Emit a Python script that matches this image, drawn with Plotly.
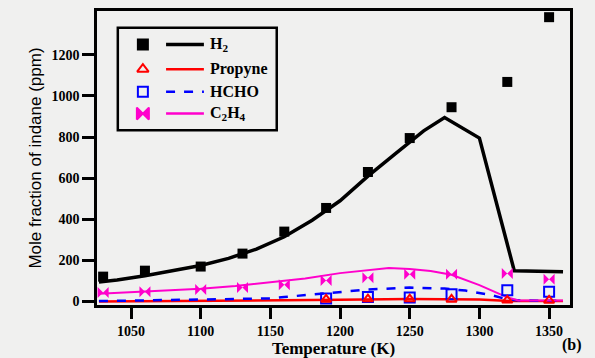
import plotly.graph_objects as go

# Experimental points
T_exp = [1030, 1060, 1100, 1130, 1160, 1190, 1220, 1250, 1280, 1320, 1350]
H2_exp = [121, 150, 170, 233, 340, 455, 630, 795, 945, 1068, 1383]
C2H4_exp = [44, 48, 58, 68, 82, 102, 116, 133, 132, 136, 108]
T_exp2 = [1190, 1220, 1250, 1280, 1320, 1350]
HCHO_exp = [15, 22, 20, 35, 55, 48]
Propyne_exp = [10, 12, 12, 10, 6, 5]

# Model curves
T_h2 = [1027, 1040, 1060, 1080, 1100, 1120, 1140, 1160, 1180, 1200, 1220, 1240, 1260, 1275, 1300, 1325, 1360]
H2_mod = [95, 105, 125, 148, 175, 210, 255, 315, 395, 490, 610, 720, 830, 895, 795, 150, 145]
T_c2 = [1027, 1050, 1075, 1100, 1125, 1150, 1175, 1200, 1225, 1235, 1250, 1265, 1280, 1300, 1320, 1328, 1360]
C2H4_mod = [38, 45, 52, 62, 75, 92, 112, 138, 158, 163, 158, 148, 130, 80, 20, 5, 5]
T_hc = [1027, 1100, 1150, 1160, 1200, 1220, 1250, 1275, 1290, 1310, 1320, 1330, 1360]
HCHO_mod = [2, 8, 15, 22, 44, 58, 68, 63, 53, 29, 10, 5, 3]
T_pr = [1027, 1100, 1150, 1200, 1250, 1300, 1325, 1360]
Propyne_mod = [0, 2, 5, 8, 12, 10, 2, 2]

legend_names = ["H<sub>2</sub>", "Propyne", "HCHO", "C<sub>2</sub>H<sub>4</sub>"]
colors = ["black", "red", "blue", "#ff00cc"]
symbols = ["square", "triangle-up-open", "square-open", "bowtie"]
dashes = ["solid", "solid", "dash", "solid"]

serif = "Liberation Serif"
sans = "Liberation Sans"
fig = go.Figure()

# model lines
fig.add_trace(go.Scatter(x=T_pr, y=Propyne_mod, mode="lines", line=dict(color="red", width=2.5)))
fig.add_trace(go.Scatter(x=T_hc, y=HCHO_mod, mode="lines", line=dict(color="blue", width=2.5, dash="dash")))
fig.add_trace(go.Scatter(x=T_c2, y=C2H4_mod, mode="lines", line=dict(color="#ff00cc", width=2)))
fig.add_trace(go.Scatter(x=T_h2, y=H2_mod, mode="lines", line=dict(color="black", width=3.5)))

# points
fig.add_trace(go.Scatter(x=T_exp, y=H2_exp, mode="markers",
                         marker=dict(symbol="square", color="black", size=10)))
fig.add_trace(go.Scatter(x=T_exp, y=C2H4_exp, mode="markers",
                         marker=dict(symbol="bowtie", color="#ff00cc", size=11)))
fig.add_trace(go.Scatter(x=T_exp2, y=HCHO_exp, mode="markers",
                         marker=dict(symbol="square-open", color="blue", size=10, line=dict(width=2, color="blue"))))
fig.add_trace(go.Scatter(x=T_exp2, y=Propyne_exp, mode="markers",
                         marker=dict(symbol="triangle-up-open", color="red", size=9, line=dict(width=2, color="red"))))

# manual legend on an overlay axis
rows_y = [0.886, 0.802, 0.725, 0.651]
for i in range(4):
    msize = 10 if i != 3 else 12
    fig.add_trace(go.Scatter(x=[0.097], y=[rows_y[i]], mode="markers", xaxis="x2", yaxis="y2",
                             marker=dict(symbol=symbols[i], color=colors[i], size=msize,
                                         line=dict(width=2, color=colors[i]))))
    fig.add_trace(go.Scatter(x=[0.146, 0.226], y=[rows_y[i]] * 2, mode="lines", xaxis="x2", yaxis="y2",
                             line=dict(color=colors[i], width=3.5 if i == 0 else 2.5, dash=dashes[i])))
    fig.add_annotation(x=0.235, y=rows_y[i], xref="x2", yref="y2", text="<b>" + legend_names[i] + "</b>",
                       showarrow=False, xanchor="left", yanchor="middle",
                       font=dict(family=serif, size=16, color="black"))

fig.add_shape(type="rect", xref="x2", yref="y2", x0=0.044, x1=0.38, y0=0.594, y1=0.943,
              line=dict(color="black", width=2.5))

fig.update_layout(
    width=595, height=358,
    margin=dict(l=97, r=25, t=8, b=52),
    paper_bgcolor="#f0f0ef", plot_bgcolor="#f0f0ef",
    showlegend=False,
    font=dict(family=serif, color="black"),
    xaxis=dict(range=[1025.6, 1365], tickvals=[1050, 1100, 1150, 1200, 1250, 1300, 1350],
               ticktext=["<b>%d</b>" % v for v in [1050, 1100, 1150, 1200, 1250, 1300, 1350]],
               ticks="outside", ticklen=11, tickwidth=2.5, tickcolor="black",
               showline=True, linecolor="black", linewidth=2.5, mirror=True,
               showgrid=False, zeroline=False,
               tickfont=dict(family=serif, size=14),
               title=dict(text="<b>Temperature (K)</b>", font=dict(family=serif, size=17), standoff=0)),
    yaxis=dict(range=[-17, 1413], tickvals=[0, 200, 400, 600, 800, 1000, 1200],
               ticktext=["<b>%d</b>" % v for v in [0, 200, 400, 600, 800, 1000, 1200]],
               ticks="outside", ticklen=12, tickwidth=2.5, tickcolor="black",
               showline=True, linecolor="black", linewidth=2.5, mirror=True,
               showgrid=False, zeroline=False,
               tickfont=dict(family=serif, size=14),
               title=dict(text="Mole fraction of indane (ppm)", font=dict(family=sans, size=17), standoff=6)),
    xaxis2=dict(overlaying="x", range=[0, 1], visible=False, fixedrange=True),
    yaxis2=dict(overlaying="y", range=[0, 1], visible=False, fixedrange=True),
)
fig.add_annotation(x=1.0, y=-0.175, xref="paper", yref="paper", xanchor="left", xshift=-10,
                   text="<b>(b)</b>", showarrow=False,
                   font=dict(family=serif, size=16, color="black"))

fig.write_html("out.html")
